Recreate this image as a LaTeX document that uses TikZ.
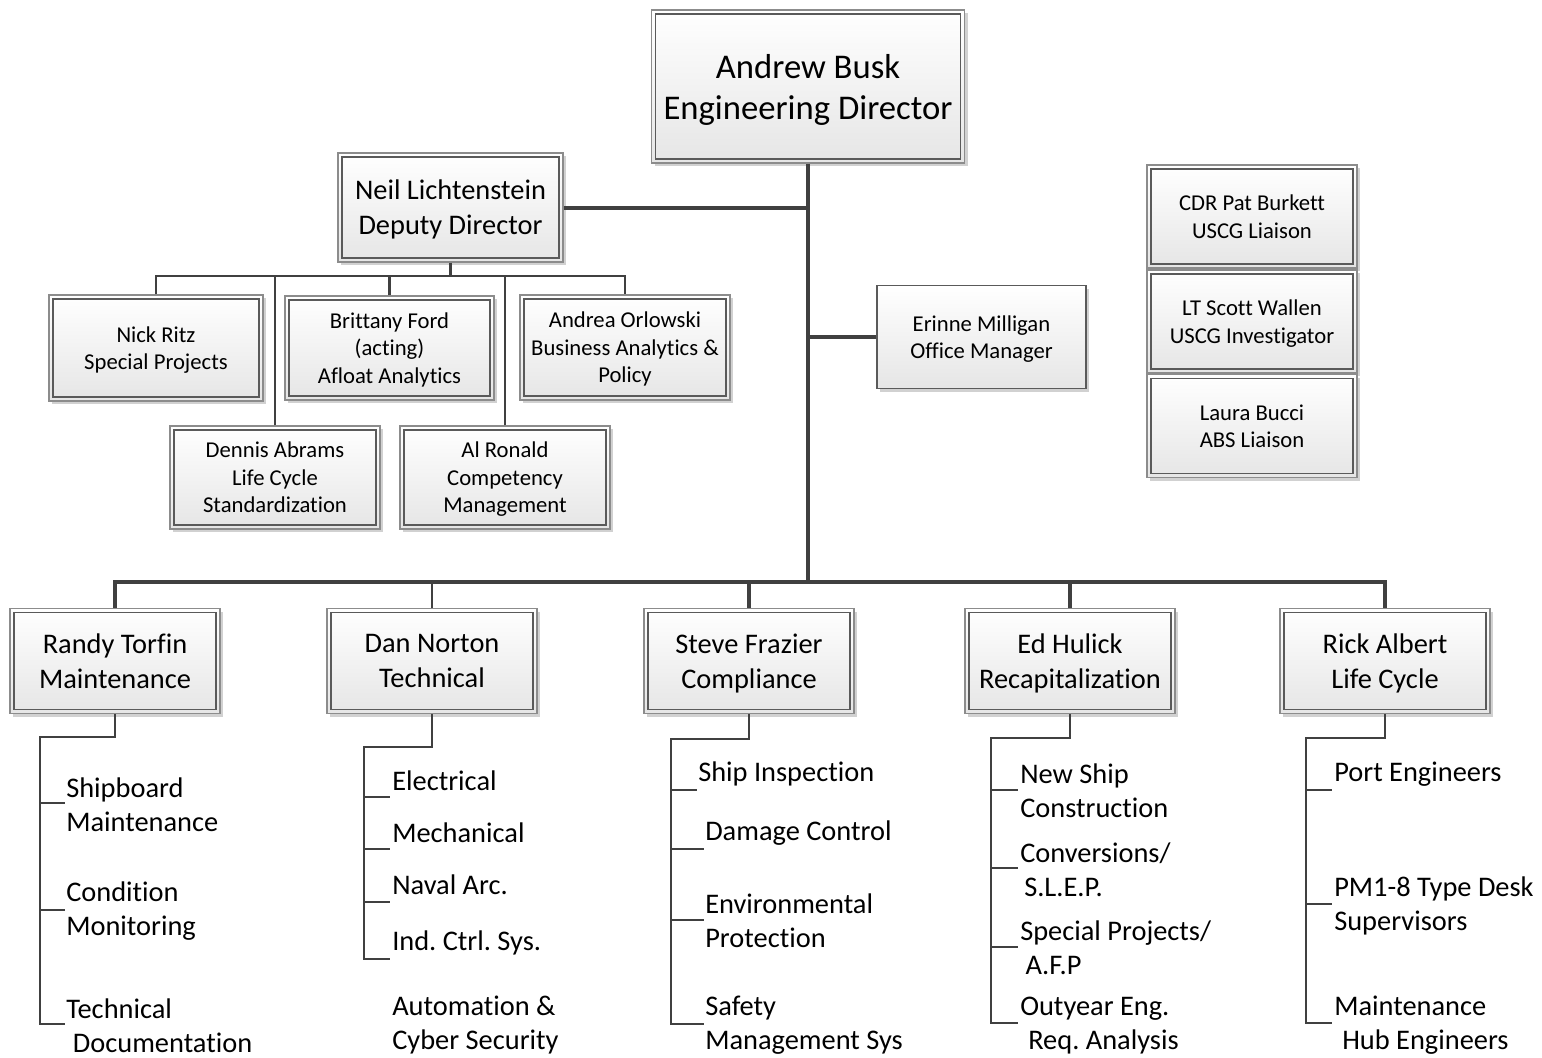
\documentclass[tikz,border=0pt]{standalone}
\usepackage{fontspec}
\setmainfont{Carlito}[Ligatures=NoCommon]
\frenchspacing
\usetikzlibrary{shadows}
\definecolor{ln}{HTML}{404040}
\definecolor{bo}{HTML}{8C8C8C}
\definecolor{bi}{HTML}{5A5A5A}
\tikzset{
  boxbase/.style={rectangle, draw=bo, line width=0.8pt, top color=white, bottom color=black!10,
    inner sep=0pt, align=center, text=black, text depth=0pt,
    drop shadow={shadow xshift=2.6pt, shadow yshift=-2.6pt, fill=black!18, opacity=1}},
  orgtwo/.style={boxbase,
    path picture={\draw[bi, line width=0.8pt]
      ([shift={(3pt,-3pt)}]path picture bounding box.north west) rectangle
      ([shift={(-3pt,3pt)}]path picture bounding box.south east);}},
  orgone/.style={boxbase, draw=bi},
  wh/.style 2 args={minimum width=#1*0.75pt, minimum height=#2*0.75pt},
  fsmall/.style={font=\fontsize{17}{20.6}\selectfont},
  fmed/.style={font=\fontsize{21.3}{26.2}\selectfont},
  fdir/.style={font=\fontsize{26}{30.8}\selectfont},
  item/.style={font=\fontsize{21.3}{25.5}\selectfont, align=left, inner sep=0pt, anchor=west},
  main/.style={draw=ln, line width=3pt},
  sub/.style={draw=ln, line width=2.1pt},
  br/.style={draw=ln, line width=2.1pt},
  tk/.style={draw=ln, line width=1.6pt},
}
\begin{document}
\begin{tikzpicture}[x=0.75pt,y=-0.75pt]
\fill[white] (0,0) rectangle (1542,1057);
\useasboundingbox (0,0) rectangle (1542,1057);

% top level
\node[orgtwo, fdir, wh={313}{153}] (dir) at (808,86.5) {Andrew Busk\\Engineering Director};
\node[orgtwo, fmed, wh={225}{109}] (dep) at (450.5,207.5) {Neil Lichtenstein\\Deputy Director};

% deputy staff
\node[orgtwo, fsmall, wh={214}{106}] (nick) at (156,348) {Nick Ritz\\Special Projects};
\node[orgtwo, fsmall, wh={209}{104}] (brit) at (389.5,348) {Brittany Ford\\(acting)\\Afloat Analytics};
\node[orgtwo, fsmall, wh={210}{105}] (andr) at (625,347.5) {Andrea Orlowski\\Business Analytics \&\\Policy};
\node[orgtwo, fsmall, wh={210}{103}] (denn) at (275,477.5) {Dennis Abrams\\Life Cycle\\Standardization};
\node[orgtwo, fsmall, wh={210}{103}] (alr) at (505,477.5) {Al Ronald\\Competency\\Management};

% office manager
\node[orgone, fsmall, wh={209}{103}] (erin) at (981.5,337) {Erinne Milligan\\Office Manager};

% liaisons
\node[orgtwo, fsmall, wh={210}{103}] (cdr) at (1252,216.5) {CDR Pat Burkett\\USCG Liaison};
\node[orgtwo, fsmall, wh={210}{103}] (lt) at (1252,321.5) {LT Scott Wallen\\USCG Investigator};
\node[orgtwo, fsmall, wh={210}{103}] (abs) at (1252,426) {Laura Bucci\\ABS Liaison};

% division heads
\node[orgtwo, fmed, wh={210}{105}] (rt) at (115,661) {Randy Torfin\\Maintenance};
\node[orgtwo, fmed, wh={210}{105}] (dn) at (432,661) {Dan Norton\\Technical};
\node[orgtwo, fmed, wh={210}{105}] (sf) at (749,661) {Steve Frazier\\Compliance};
\node[orgtwo, fmed, wh={210}{105}] (eh) at (1070,661) {Ed Hulick\\Recapitalization};
\node[orgtwo, fmed, wh={210}{105}] (ra) at (1385,661) {Rick Albert\\Life Cycle};

% trunk and bus
\coordinate (bus) at (808,582);
\draw[main] (dir.south) -- (dir.south |- bus);
\draw[main] (dep.east) -- (dep.east -| dir.south);
\draw[main] (erin.west) -- (erin.west -| dir.south);
\draw[main] (rt.north) |- (bus) -| (ra.north);
\draw[sub] (dn.north) -- (dn.north |- bus);
\draw[main] (sf.north) -- (sf.north |- bus);
\draw[main] (eh.north) -- (eh.north |- bus);

% deputy bus
\coordinate (dbus) at (450.5,276);
\draw[sub] (dep.south) -- (dep.south |- dbus);
\draw[sub] (nick.north) |- (dbus) -| (andr.north);
\draw[sub] (denn.north) -- (denn.north |- dbus);
\draw[sub] (brit.north) -- (brit.north |- dbus);
\draw[sub] (alr.north) -- (alr.north |- dbus);

% ---- Randy Torfin items
\coordinate (rtc) at (40,737);
\coordinate (rte) at (40,1024);
\draw[br] (rt.south) |- (rtc) -- (rte) -- (65,1024);
\draw[tk] (40,803) -- (65,803);
\draw[tk] (40,910) -- (65,910);
\node[item] (rt1) at (66,805) {Shipboard\\Maintenance};
\node[item] (rt2) at (66,911) {Condition\\Monitoring};
\node[item] (rt3) at (66,1025.5) {Technical\\\hspace*{5pt}Documentation};

% ---- Dan Norton items
\coordinate (dnc) at (364,747);
\coordinate (dne) at (364,959);
\draw[br] (dn.south) |- (dnc) -- (dne) -- (390,959);
\draw[tk] (364,797) -- (390,797);
\draw[tk] (364,849) -- (390,849);
\draw[tk] (364,902) -- (390,902);
\node[item] (dn1) at (392,781) {Electrical};
\node[item] (dn2) at (392,833) {Mechanical};
\node[item] (dn3) at (392,885) {Naval Arc.};
\node[item] (dn4) at (392,943) {Ind. Ctrl. Sys.};
\node[item] (dn5) at (392,1025.5) {Automation \&\\Cyber Security};

% ---- Steve Frazier items
\coordinate (sfc) at (671,739);
\coordinate (sfe) at (671,1024);
\draw[br] (sf.south) |- (sfc) -- (sfe) -- (704,1024);
\draw[tk] (671,790) -- (697,790);
\draw[tk] (671,849) -- (704,849);
\draw[tk] (671,920) -- (704,920);
\node[item] (sf1) at (698,774) {Ship Inspection};
\node[item] (sf2) at (705,833) {Damage Control};
\node[item] (sf3) at (705,920.5) {Environmental\\Protection};
\node[item] (sf4) at (705,1025.5) {Safety\\Management Sys};

% ---- Ed Hulick items
\coordinate (ehc) at (991,738);
\coordinate (ehe) at (991,1023);
\draw[br] (eh.south) |- (ehc) -- (ehe) -- (1018,1023);
\draw[tk] (991,790) -- (1018,790);
\draw[tk] (991,868) -- (1018,868);
\draw[tk] (991,947) -- (1018,947);
\node[item] (eh1) at (1020,790.5) {New Ship\\Construction};
\node[item] (eh2) at (1020,869.5) {Conversions/\\\hspace*{3pt}S.L.E.P.};
\node[item] (eh3) at (1020,947.5) {Special Projects/\\\hspace*{4pt}A.F.P};
\node[item] (eh4) at (1020,1025.5) {Outyear Eng.\\\hspace*{6pt}Req. Analysis};

% ---- Rick Albert items
\coordinate (rac) at (1306,738);
\coordinate (rae) at (1306,1023);
\draw[br] (ra.south) |- (rac) -- (rae) -- (1332,1023);
\draw[tk] (1306,790) -- (1332,790);
\draw[tk] (1306,904) -- (1332,904);
\node[item] (ra1) at (1334,774) {Port Engineers};
\node[item] (ra2) at (1334,905.5) {PM1-8 Type Desk\\Supervisors};
\node[item] (ra3) at (1334,1025.5) {Maintenance\\\hspace*{6pt}Hub Engineers};
\end{tikzpicture}
\end{document}
